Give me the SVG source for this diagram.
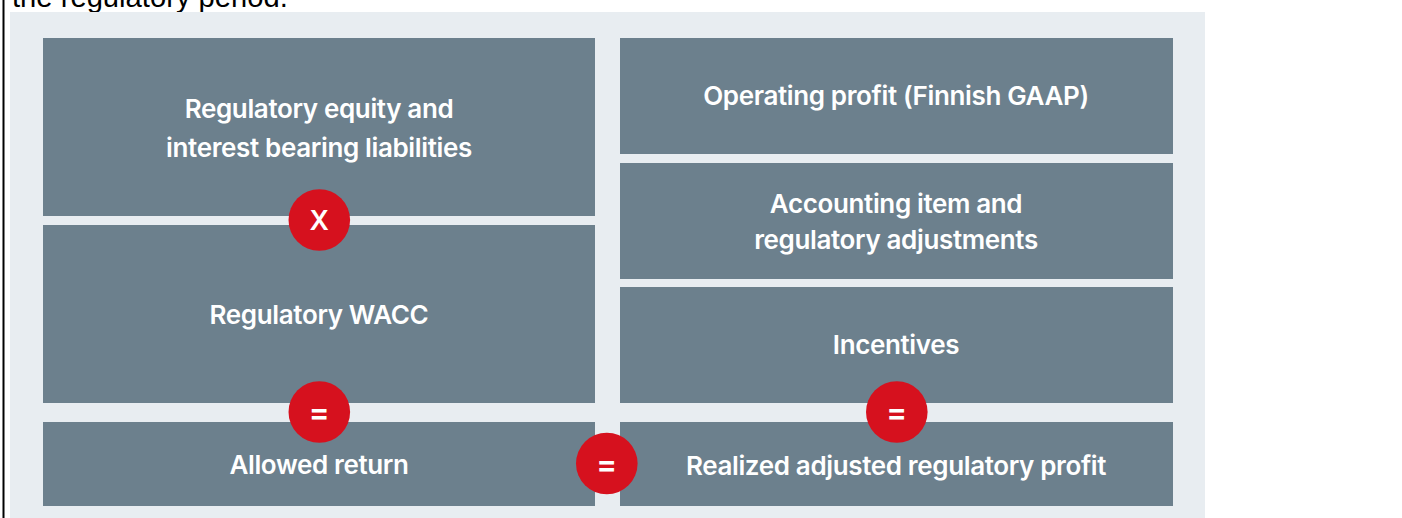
<svg xmlns="http://www.w3.org/2000/svg" width="1402" height="518" viewBox="0 0 1402 518">
<style>
.box{fill:#6c808d}
.t{font-family:"Inter","Liberation Sans",sans-serif;font-size:26px;font-weight:600;fill:#fff;text-anchor:middle;letter-spacing:-0.36px}
.c{fill:#d6111e}
.s{font-family:"Inter","Liberation Sans",sans-serif;font-size:27px;font-weight:600;fill:#fff;text-anchor:middle}
.e{font-size:31px}
</style>
<rect width="1402" height="518" fill="#fff"/>
<text x="12" y="7" font-family="Liberation Sans, sans-serif" font-size="29.2" fill="#000">the regulatory period.</text>
<rect x="2.500" y="0" width="2" height="518" fill="#000"/>
<rect x="10" y="12" width="1195" height="506" fill="#e8edf1"/>
<g id="equity"><rect class="box" x="43" y="38" width="552" height="178"/><text class="t" x="319" y="118">Regulatory equity and</text><text class="t" x="319" y="157">interest bearing liabilities</text></g>
<g id="wacc"><rect class="box" x="43" y="225" width="552" height="178"/><text class="t" x="319" y="324">Regulatory WACC</text></g>
<g id="allowed"><rect class="box" x="43" y="422" width="552" height="84"/><text class="t" x="319" y="474">Allowed return</text></g>
<g id="operating"><rect class="box" x="620" y="38" width="553" height="116"/><text class="t" x="896" y="105">Operating profit (Finnish GAAP)</text></g>
<g id="accounting"><rect class="box" x="620" y="163" width="553" height="116"/><text class="t" x="896" y="213">Accounting item and</text><text class="t" x="896" y="249">regulatory adjustments</text></g>
<g id="incentives"><rect class="box" x="620" y="287" width="553" height="116"/><text class="t" x="896" y="354">Incentives</text></g>
<g id="realized"><rect class="box" x="620" y="422" width="553" height="84"/><text class="t" x="896" y="475">Realized adjusted regulatory profit</text></g>
<g id="op-x"><circle class="c" cx="319.300" cy="220" r="30.8"/><text class="s" x="319.300" y="230">X</text></g>
<g id="op-eq1"><circle class="c" cx="319.300" cy="412" r="30.8"/><text class="s e" x="319.300" y="423">=</text></g>
<g id="op-eq2"><circle class="c" cx="896.800" cy="412" r="30.8"/><text class="s e" x="896.800" y="423">=</text></g>
<g id="op-eq3"><circle class="c" cx="606.800" cy="463.500" r="30.8"/><text class="s e" x="606.800" y="475">=</text></g>
<g id="connectors"></g>
</svg>
